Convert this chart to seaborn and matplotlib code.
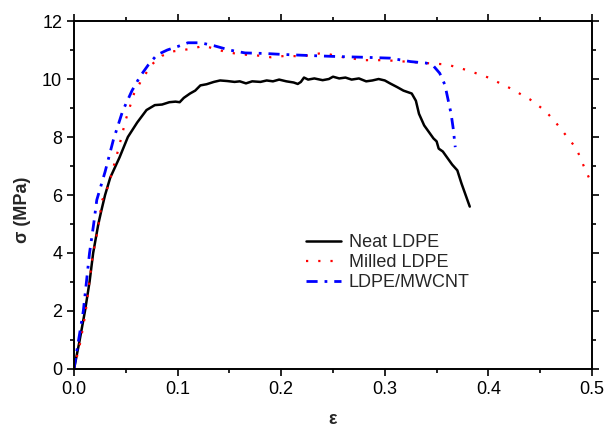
import numpy as np
import pandas as pd
import matplotlib
matplotlib.use("Agg")
import matplotlib.pyplot as plt
import seaborn as sns
from matplotlib.ticker import MultipleLocator

# stress-strain curves
neat_strain = [0, 0.005, 0.0106, 0.015, 0.0185, 0.0235, 0.026, 0.030, 0.035, 0.044, 0.052, 0.061,
               0.070, 0.078, 0.085, 0.092, 0.098, 0.102, 0.106, 0.112, 0.117,
               0.122, 0.128, 0.135, 0.141, 0.148, 0.155, 0.160, 0.166, 0.172, 0.180, 0.186,
               0.192, 0.198, 0.205, 0.212, 0.216, 0.219, 0.222, 0.226, 0.232, 0.240, 0.246,
               0.250, 0.256, 0.262, 0.268, 0.275, 0.282, 0.288, 0.294, 0.300, 0.305, 0.312,
               0.318, 0.326, 0.330, 0.333, 0.338, 0.342, 0.347, 0.350, 0.352, 0.356, 0.360,
               0.365, 0.370, 0.374, 0.377, 0.382]
neat_stress = [0, 0.9, 2.0, 3.0, 4.0, 5.0, 5.4, 6.0, 6.6, 7.3, 8.0, 8.5,
               8.93, 9.1, 9.12, 9.2, 9.22, 9.2, 9.35, 9.5, 9.6,
               9.78, 9.82, 9.9, 9.95, 9.93, 9.9, 9.92, 9.85, 9.92, 9.9, 9.95,
               9.92, 9.98, 9.92, 9.88, 9.83, 9.9, 10.05, 9.98, 10.02, 9.96, 10.0,
               10.08, 10.02, 10.05, 9.98, 10.02, 9.92, 9.95, 10.0, 9.95, 9.85, 9.72,
               9.6, 9.5, 9.25, 8.8, 8.4, 8.2, 7.95, 7.85, 7.6, 7.5, 7.3,
               7.05, 6.85, 6.4, 6.1, 5.6]

milled_strain = [0, 0.006, 0.011, 0.0145, 0.018, 0.0235, 0.027, 0.033, 0.043, 0.050, 0.058,
                 0.065, 0.075, 0.085, 0.095, 0.105, 0.115, 0.125, 0.135, 0.145, 0.160,
                 0.175, 0.190, 0.205, 0.220, 0.240, 0.260, 0.280, 0.300, 0.320, 0.340,
                 0.360, 0.380, 0.400, 0.420, 0.440, 0.455, 0.465, 0.475, 0.485, 0.492, 0.497]
milled_stress = [0, 0.9, 1.9, 2.9, 3.9, 4.9, 5.8, 6.3, 7.6, 8.6, 9.5,
                 9.95, 10.5, 10.8, 10.95, 11.0, 11.05, 11.15, 11.05, 10.95, 10.85,
                 10.82, 10.75, 10.8, 10.78, 10.9, 10.75, 10.65, 10.65, 10.6, 10.55,
                 10.5, 10.3, 10.05, 9.7, 9.3, 8.9, 8.5, 8.05, 7.6, 7.0, 6.6]

cnt_strain = [0, 0.004, 0.009, 0.012, 0.015, 0.019, 0.022, 0.030, 0.038, 0.047, 0.056,
              0.064, 0.072, 0.080, 0.090, 0.100, 0.110, 0.122, 0.135, 0.150, 0.165,
              0.185, 0.200, 0.220, 0.250, 0.280, 0.305, 0.325, 0.340, 0.347, 0.353,
              0.358, 0.361, 0.364, 0.366, 0.368]
cnt_stress = [0, 0.9, 2.0, 3.0, 4.0, 5.0, 5.83, 6.8, 7.9, 8.9, 9.6,
              10.1, 10.5, 10.83, 11.0, 11.12, 11.25, 11.25, 11.15, 11.0, 10.9,
              10.88, 10.85, 10.82, 10.78, 10.75, 10.72, 10.6, 10.55, 10.45, 10.2,
              9.8, 9.3, 8.8, 8.3, 7.65]

sns.set_style("ticks")
plt.rcParams['font.family'] = ['Liberation Sans', 'DejaVu Sans']
plt.rcParams['font.size'] = 13

fig = plt.figure(figsize=(6.08, 4.29), dpi=100)
ax = fig.add_axes([0.1217, 0.1399, 0.8520, 0.8111])

neat = pd.DataFrame({'strain': neat_strain, 'stress': neat_stress})
milled = pd.DataFrame({'strain': milled_strain, 'stress': milled_stress})
cnt = pd.DataFrame({'strain': cnt_strain, 'stress': cnt_stress})

sns.lineplot(data=neat, x='strain', y='stress', sort=False, color='black', lw=1.8,
             label='Neat LDPE', ax=ax)
sns.lineplot(data=milled, x='strain', y='stress', sort=False, color='red', lw=1.6,
             label='Milled LDPE', ax=ax)
sns.lineplot(data=cnt, x='strain', y='stress', sort=False, color='blue', lw=2.0,
             label='LDPE/MWCNT', ax=ax)
ax.lines[1].set_linestyle((0, (1, 4.5)))
ax.lines[2].set_linestyle((0, (4, 2.5, 1, 2.5)))

ax.set_xlim(0, 0.5)
ax.set_ylim(0, 12)
ax.xaxis.set_major_locator(MultipleLocator(0.1))
ax.xaxis.set_minor_locator(MultipleLocator(0.05))
ax.yaxis.set_major_locator(MultipleLocator(2))
ax.yaxis.set_minor_locator(MultipleLocator(1))
ax.tick_params(which='both', direction='out', top=True, right=True, width=1.2,
               labelsize=13, colors='black')
ax.tick_params(which='major', length=5)
ax.tick_params(which='minor', length=3)
for s in ax.spines.values():
    s.set_linewidth(1.4)
    s.set_color('black')

ax.set_xlabel('ε', fontsize=13, fontweight='bold')
ax.xaxis.set_label_coords(0.5, -0.122)
ax.set_ylabel('σ (MPa)', fontsize=13, fontweight='bold')
ax.yaxis.set_label_coords(-0.083, 0.457)

ax.legend(loc='upper left', bbox_to_anchor=(0.431, 0.414), frameon=False,
          fontsize=13, borderpad=0, labelspacing=0.18, handlelength=1.95,
          handletextpad=0.4)

fig.savefig('out.png', dpi=100)
